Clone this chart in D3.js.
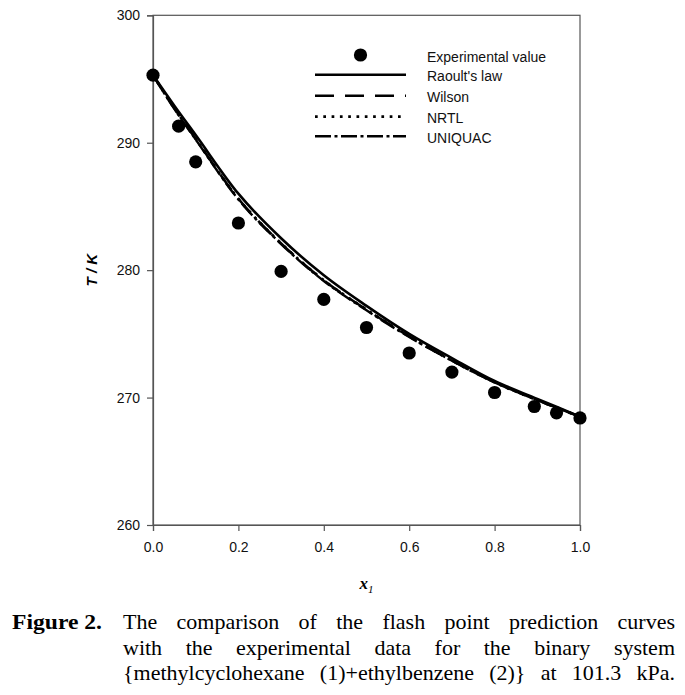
<!DOCTYPE html>
<html><head><meta charset="utf-8">
<script src="https://cdn.jsdelivr.net/npm/d3@7"></script>
<style>body{margin:0;background:#fff}</style>
</head><body><svg id="c" width="685" height="695"></svg>
<script>
const xTicks = [0.0, 0.2, 0.4, 0.6, 0.8, 1.0];
const yTicks = [260, 270, 280, 290, 300];
const expX = [0.0, 0.06, 0.1, 0.2, 0.3, 0.4, 0.5, 0.6, 0.7, 0.8, 0.893, 0.945, 1.0];
const expT = [295.3, 291.3, 288.5, 283.7, 279.9, 277.7, 275.5, 273.5, 272.0, 270.4, 269.3, 268.8, 268.4];
const curveX = [0.0, 0.05, 0.1, 0.2, 0.3, 0.4, 0.5, 0.6, 0.7, 0.8, 0.9, 1.0];
const raoult = [295.3, 292.9, 290.6, 286.0, 282.5, 279.6, 277.2, 275.0, 273.1, 271.3, 269.9, 268.5];
const wilson = [295.3, 292.7, 290.3, 285.6, 282.1, 279.2, 276.9, 274.8, 272.9, 271.2, 269.8, 268.5];
const nrtl   = [295.3, 292.7, 290.3, 285.6, 282.1, 279.2, 276.9, 274.8, 272.9, 271.2, 269.8, 268.5];
const uniquac= [295.3, 292.65,290.25,285.55,282.05,279.15,276.85,274.75,272.9, 271.2, 269.8, 268.5];
const seriesNames = ["Raoult's law", "Wilson", "NRTL", "UNIQUAC"];
const captionLines = [
  "The comparison of the flash point prediction curves",
  "with the experimental data for the binary system",
  "{methylcyclohexane (1)+ethylbenzene (2)} at 101.3 kPa."
];

const svg = d3.select("#c");
const L = 153, R = 580, T = 15.3, B = 525;
const x = d3.scaleLinear().domain([0, 1]).range([L, R]);
const y = d3.scaleLinear().domain([260, 300]).range([B, T]);
const sans = "Arial, 'Liberation Sans', sans-serif";
const serif = "'Times New Roman', 'Liberation Serif', serif";

// frame
svg.append("rect").attr("x", L).attr("y", T).attr("width", R - L).attr("height", B - T)
  .attr("fill", "none").attr("stroke", "#555").attr("stroke-width", 1.2);

const xa = svg.append("g").attr("transform", `translate(0,${B})`)
  .call(d3.axisBottom(x).tickValues(xTicks).tickFormat(d3.format(".1f")).tickSize(6).tickPadding(11));
const ya = svg.append("g").attr("transform", `translate(${L},0)`)
  .call(d3.axisLeft(y).tickValues(yTicks).tickFormat(d3.format("d")).tickSize(6).tickPadding(7));
[xa, ya].forEach(a => {
  a.select(".domain").attr("stroke", "#555").attr("stroke-width", 1.2);
  a.selectAll(".tick line").attr("stroke", "#555").attr("stroke-width", 1.2);
  a.selectAll(".tick text").attr("font-family", sans).attr("font-size", 14).attr("fill", "#111");
});

// curves
const styles = [
  {dash: null, w: 2.6},
  {dash: "19,11", w: 2.6},
  {dash: "2.7,5.6", w: 2.8},
  {dash: "16,3.5,3,3.5", w: 2.4}
];
const allSeries = [raoult, wilson, nrtl, uniquac];
const line = d3.line().x(d => x(d[0])).y(d => y(d[1])).curve(d3.curveMonotoneX);
allSeries.forEach((s, i) => {
  svg.append("path").datum(curveX.map((v, j) => [v, s[j]]))
    .attr("d", line).attr("fill", "none").attr("stroke", "#000")
    .attr("stroke-width", styles[i].w)
    .attr("stroke-dasharray", styles[i].dash);
});

// points
svg.selectAll("circle.exp").data(expX.map((v, i) => [v, expT[i]])).enter()
  .append("circle").attr("class", "exp")
  .attr("cx", d => x(d[0])).attr("cy", d => y(d[1])).attr("r", 6.6).attr("fill", "#000");

// legend
const lg = svg.append("g");
const lx1 = 315, lx2 = 406, tx = 427;
const rowY = [55, 74.7, 95.7, 116.7, 136.3];
lg.append("circle").attr("cx", (lx1 + lx2) / 2).attr("cy", rowY[0]).attr("r", 6.6).attr("fill", "#000");
lg.append("text").attr("x", tx).attr("y", rowY[0] + 7).text("Experimental value")
  .attr("font-family", sans).attr("font-size", 14).attr("fill", "#111");
seriesNames.forEach((n, i) => {
  lg.append("line").attr("x1", lx1).attr("x2", lx2).attr("y1", rowY[i + 1]).attr("y2", rowY[i + 1])
    .attr("stroke", "#000").attr("stroke-width", styles[i].w).attr("stroke-dasharray", styles[i].dash);
  lg.append("text").attr("x", tx).attr("y", rowY[i + 1] + 6.5).text(n)
    .attr("font-family", sans).attr("font-size", 14).attr("fill", "#111");
});

// axis titles
const xt = svg.append("text").attr("x", (L + R) / 2).attr("y", 589).attr("text-anchor", "middle")
  .attr("font-family", serif).attr("font-size", 17).attr("font-style", "italic").attr("font-weight", "bold");
xt.append("tspan").text("x");
xt.append("tspan").text("1").attr("font-size", 11).attr("dy", 4).attr("font-weight", "normal");
svg.append("text").attr("transform", `translate(97,${(T + B) / 2}) rotate(-90)`)
  .attr("text-anchor", "middle").attr("font-family", sans).attr("font-size", 15)
  .attr("font-style", "italic").attr("font-weight", "bold").text("T / K");

// caption
const capY = [629, 654.5, 680];
const capL = 123, capR = 675;
svg.append("text").attr("x", 12).attr("y", capY[0]).text("Figure 2.")
  .attr("font-family", serif).attr("font-size", 22).attr("font-weight", "bold")
  .attr("textLength", 90).attr("lengthAdjust", "spacingAndGlyphs");
captionLines.forEach((ln, i) => {
  const words = ln.split(" ");
  const g = svg.append("g");
  const nodes = words.map(w => g.append("text").attr("y", capY[i]).text(w)
    .attr("font-family", serif).attr("font-size", 22).attr("fill", "#000"));
  const widths = nodes.map(n => n.node().getComputedTextLength());
  const total = d3.sum(widths);
  const gap = (capR - capL - total) / (words.length - 1);
  let cx = capL;
  nodes.forEach((n, j) => { n.attr("x", cx); cx += widths[j] + gap; });
});
</script></body></html>
